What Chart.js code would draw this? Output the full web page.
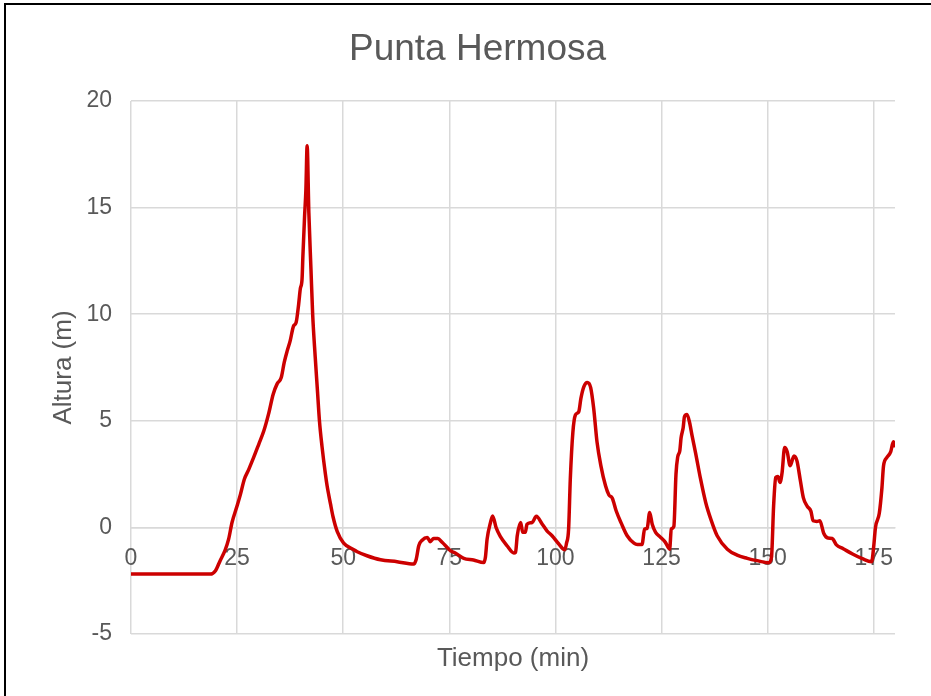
<!DOCTYPE html>
<html lang="es">
<head>
  <meta charset="UTF-8" />
  <title>Punta Hermosa</title>
  <script src="https://cdn.jsdelivr.net/npm/chart.js@4.4.1/dist/chart.umd.min.js"></script>
  <style>
    * { margin: 0; padding: 0; box-sizing: border-box; }
    html, body { width: 931px; height: 696px; overflow: hidden; background: #ffffff; }
    /* chart frame, runs off the right and bottom edges */
    .frame {
      position: absolute;
      left: 4px;
      top: 3px;
      width: 960px;
      height: 720px;
      border: 2px solid #000000;
    }
    .chart-box {
      position: absolute;
      left: 0;
      top: 0;
      width: 955px;
      height: 696px;
    }
  </style>
</head>
<body>
  <div class="frame"></div>
  <div class="chart-box">
    <canvas id="tsunamiChart" width="955" height="696"></canvas>
  </div>

  <script>
    // Tiempo (min) and Altura (m) of the wave record
    const tiempo = [
      0, 18.7, 19.9, 21.0, 22.2, 23.0, 23.8, 25.0, 25.8, 26.7,
      27.7, 28.9, 30.1, 31.3, 32.4, 33.5, 34.4, 35.4, 36.1, 36.8,
      37.5, 38.3, 38.9, 39.5, 39.9, 40.3, 40.5, 40.9, 41.2, 41.5,
      41.9, 42.4, 42.8, 43.4, 43.9, 44.4, 45.0, 45.8, 46.2, 47.0,
      47.6, 48.6, 50.1, 52.5, 53.3, 55.6, 58.8, 62.7, 66.6, 67.2,
      67.8, 68.6, 69.8, 70.5, 71.3, 72.3, 73.3, 74.5, 75.3, 76.4,
      78.4, 80.7, 83.1, 83.5, 83.9, 84.7, 85.2, 86.0, 87.0, 88.6,
      90.2, 90.6, 91.0, 91.8, 92.3, 92.9, 93.3, 94.5, 95.5, 96.9,
      98.0, 99.2, 100.8, 102.2, 102.6, 103.1, 103.5, 104.1, 104.7, 105.5,
      106.0, 106.7, 107.5, 108.3, 109.0, 109.8, 110.7, 111.8, 112.6, 113.4,
      114.3, 115.5, 116.9, 118.5, 119.3, 120.4, 121.0, 121.6, 122.2, 122.8,
      123.6, 124.8, 125.9, 126.9, 127.3, 127.9, 128.4, 128.8, 129.3, 129.6,
      130.1, 130.4, 131.0, 131.6, 132.2, 133.0, 134.2, 135.4, 136.6, 138.1,
      140.5, 142.8, 145.2, 147.5, 150.2, 150.9, 151.4, 151.9, 152.4, 152.9,
      153.4, 154.0, 154.6, 155.3, 156.2, 156.9, 157.7, 158.4, 159.3, 160.2,
      160.7, 161.6, 162.3, 163.2, 164.2, 165.2, 166.2, 167.8, 170.0, 172.3,
      174.5, 175.0, 175.4, 176.3, 176.9, 177.3, 178.1, 179.0, 179.6, 180.1
    ];
    const altura = [
      -2.19, -2.19, -2.03, -1.56, -1.05, -0.55, 0.23, 1.01, 1.56, 2.26,
      2.70, 3.28, 3.90, 4.53, 5.31, 6.25, 6.72, 7.03, 7.74, 8.28,
      8.75, 9.45, 9.61, 10.47, 11.2, 11.64, 12.73, 14.61, 15.8, 17.9,
      14.77, 12.11, 10.0, 8.0, 6.5, 5.0, 3.8, 2.5, 1.95, 1.1,
      0.5, -0.2, -0.74, -1.05, -1.14, -1.33, -1.52, -1.61, -1.72, -1.49,
      -0.86, -0.60, -0.47, -0.67, -0.52, -0.52, -0.70, -0.94, -1.10, -1.20,
      -1.45, -1.53, -1.65, -1.40, -0.55, 0.23, 0.54, 0.0, -0.42, -0.86,
      -1.20, -1.17, -0.39, 0.23, -0.23, -0.23, 0.15, 0.23, 0.52, 0.15,
      -0.16, -0.39, -0.78, -1.05, -0.75, -0.08, 2.26, 4.45, 5.27, 5.43,
      6.05, 6.60, 6.80, 6.56, 5.60, 4.00, 2.90, 1.95, 1.52, 1.37,
      0.78, 0.20, -0.39, -0.74, -0.80, -0.80, -0.08, -0.05, 0.70, 0.15,
      -0.23, -0.47, -0.70, -1.02, -0.08, 0.05, 2.50, 3.30, 3.60, 4.20,
      4.69, 5.20, 5.30, 4.92, 4.29, 3.51, 2.26, 1.17, 0.39, -0.39,
      -1.02, -1.30, -1.45, -1.56, -1.66, -1.40, 1.01, 2.34, 2.39, 2.11,
      2.58, 3.75, 3.55, 2.89, 3.35, 3.12, 2.20, 1.40, 1.00, 0.75,
      0.31, 0.28, 0.31, -0.27, -0.50, -0.52, -0.82, -1.00, -1.25, -1.47,
      -1.61, -0.86, 0.0, 0.66, 1.80, 2.89, 3.28, 3.55, 4.02, 3.77
    ];

    const FONT = "'Liberation Sans', Arial, sans-serif";
    const TEXT_COLOR = '#595959';
    const GRID_COLOR = '#d9d9d9';

    const puntos = tiempo.map((t, i) => ({ x: t, y: altura[i] }));

    const ctx = document.getElementById('tsunamiChart').getContext('2d');
    const chart = new Chart(ctx, {
      type: 'line',
      data: {
        datasets: [{
          label: 'Punta Hermosa',
          data: puntos,
          xAxisID: 'x',
          yAxisID: 'y',
          borderColor: '#cc0000',
          borderWidth: 3.5,
          pointRadius: 0,
          cubicInterpolationMode: 'monotone',
          fill: false
        }]
      },
      options: {
        responsive: false,
        animation: false,
        layout: { padding: 0 },
        plugins: {
          legend: { display: false },
          tooltip: { enabled: false },
          title: {
            display: true,
            text: 'Punta Hermosa',
            color: TEXT_COLOR,
            font: { family: FONT, size: 37, weight: 'normal' },
            padding: { top: 28, bottom: 28.6 }
          }
        },
        scales: {
          // time axis crosses the altitude axis at 0
          x: {
            type: 'linear',
            position: { y: 0 },
            min: 0,
            max: 180,
            ticks: {
              stepSize: 25,
              includeBounds: false,
              color: TEXT_COLOR,
              padding: 17,
              maxRotation: 0,
              font: { family: FONT, size: 23 }
            },
            grid: { color: GRID_COLOR, lineWidth: 1.5, drawTicks: false },
            border: { color: GRID_COLOR, width: 1.5 }
          },
          // only carries the bottom axis title
          x2: {
            type: 'linear',
            position: 'bottom',
            min: 0,
            max: 180,
            ticks: { display: false },
            grid: { display: false, drawTicks: false },
            border: { display: false },
            title: {
              display: true,
              text: 'Tiempo (min)',
              color: TEXT_COLOR,
              font: { family: FONT, size: 26 },
              padding: { top: 0, bottom: 21.4 }
            },
            afterFit(scale) { scale.height = 62; }
          },
          y: {
            type: 'linear',
            position: 'left',
            min: -5,
            max: 20,
            ticks: {
              stepSize: 5,
              color: TEXT_COLOR,
              padding: 19,
              font: { family: FONT, size: 23 }
            },
            grid: { color: GRID_COLOR, lineWidth: 1.5, drawTicks: false },
            border: { display: false },
            title: {
              display: true,
              text: 'Altura (m)',
              color: TEXT_COLOR,
              font: { family: FONT, size: 26 },
              padding: { top: 48, bottom: 0 }
            },
            afterFit(scale) { scale.width = 131; }
          },
          // empty right-hand strip so the plot stops short of the frame
          yr: {
            type: 'linear',
            position: 'right',
            min: -5,
            max: 20,
            ticks: { display: false },
            grid: { display: false, drawTicks: false },
            border: { display: false },
            afterFit(scale) { scale.width = 60; }
          }
        }
      }
    });
  </script>
</body>
</html>
